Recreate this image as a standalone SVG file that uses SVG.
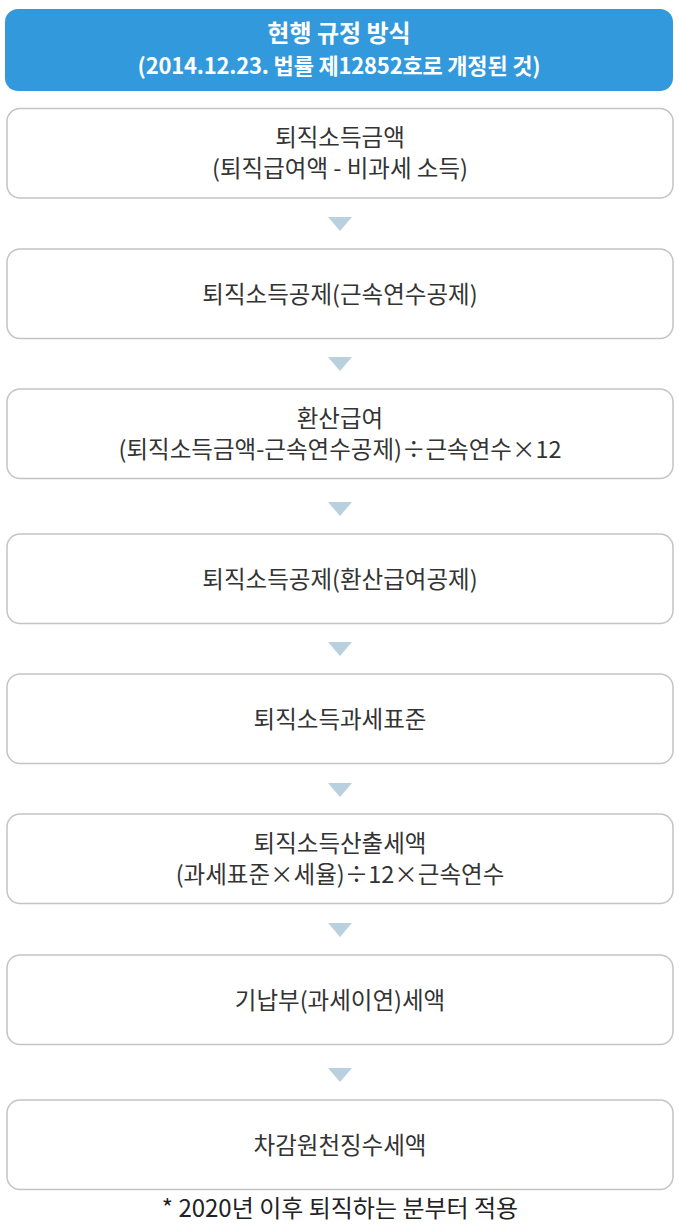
<svg xmlns="http://www.w3.org/2000/svg" width="679" height="1228" viewBox="0 0 679 1228">
<style>
.box{fill:#fff;stroke:#c4c4c4;stroke-width:1.5}
.hdr{fill:#3399dd}
.t{font-family:"Noto Sans CJK KR","Noto Sans",sans-serif;font-size:23.5px;fill:#333;text-anchor:middle}
.h{font-family:"Noto Sans CJK KR","Noto Sans",sans-serif;font-weight:bold;fill:#fff;text-anchor:middle}
.h1{font-size:24px}
.h2{font-size:22px;letter-spacing:-0.2px}
.n{font-family:"Noto Sans CJK KR","Noto Sans",sans-serif;font-size:24px;fill:#222;text-anchor:middle}
.arr{fill:#b9d0de}
</style>
<g id="header">
<rect class="hdr" x="5" y="9" width="668" height="82" rx="13"/>
<text class="h h1" x="339" y="42">현행 규정 방식</text>
<text class="h h2" x="339" y="73.5">(2014.12.23. 법률 제12852호로 개정된 것)</text>
</g>
<g id="node1">
<rect class="box" x="7" y="108.5" width="666" height="89.5" rx="13"/>
<text class="t" x="340" y="146">퇴직소득금액</text>
<text class="t" x="340" y="177">(퇴직급여액 - 비과세 소득)</text>
</g>
<g id="node2">
<rect class="box" x="7" y="249" width="666" height="89.5" rx="13"/>
<text class="t" x="340" y="302.5">퇴직소득공제(근속연수공제)</text>
</g>
<g id="node3">
<rect class="box" x="7" y="389" width="666" height="89.5" rx="13"/>
<text class="t" x="340" y="426.5">환산급여</text>
<text class="t" x="340" y="457.5">(퇴직소득금액-근속연수공제)÷근속연수×12</text>
</g>
<g id="node4">
<rect class="box" x="7" y="534" width="666" height="89.5" rx="13"/>
<text class="t" x="340" y="587.5">퇴직소득공제(환산급여공제)</text>
</g>
<g id="node5">
<rect class="box" x="7" y="674" width="666" height="89.5" rx="13"/>
<text class="t" x="340" y="727.5">퇴직소득과세표준</text>
</g>
<g id="node6">
<rect class="box" x="7" y="814" width="666" height="89.5" rx="13"/>
<text class="t" x="340" y="851.5">퇴직소득산출세액</text>
<text class="t" x="340" y="882.5">(과세표준×세율)÷12×근속연수</text>
</g>
<g id="node7">
<rect class="box" x="7" y="955" width="666" height="89.5" rx="13"/>
<text class="t" x="340" y="1008.5">기납부(과세이연)세액</text>
</g>
<g id="node8">
<rect class="box" x="7" y="1100" width="666" height="89.5" rx="13"/>
<text class="t" x="340" y="1153.5">차감원천징수세액</text>
</g>
<g id="connectors">
<polygon class="arr" points="328,217 352,217 340,231"/>
<polygon class="arr" points="328,357 352,357 340,371"/>
<polygon class="arr" points="328,502 352,502 340,516"/>
<polygon class="arr" points="328,642 352,642 340,656"/>
<polygon class="arr" points="328,783 352,783 340,797"/>
<polygon class="arr" points="328,923 352,923 340,937"/>
<polygon class="arr" points="328,1068 352,1068 340,1082"/>
</g>
<text class="n" x="340" y="1217">* 2020년 이후 퇴직하는 분부터 적용</text>
</svg>
